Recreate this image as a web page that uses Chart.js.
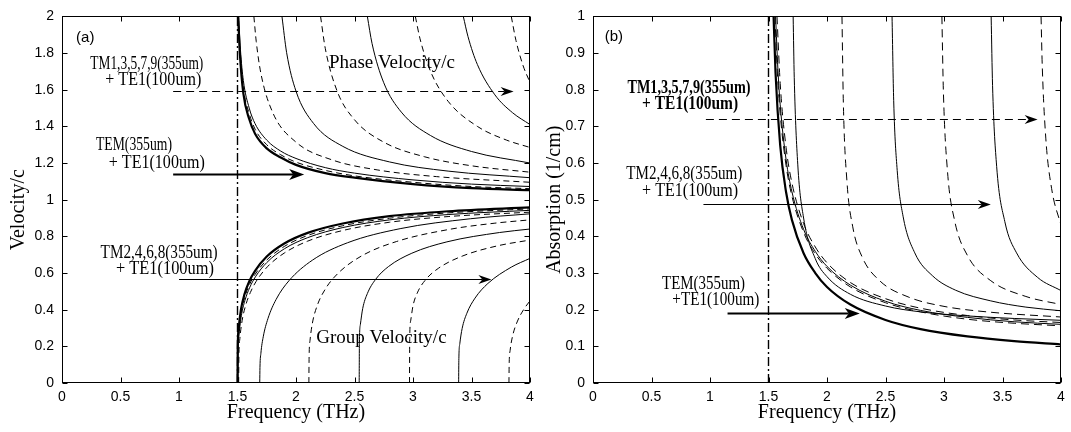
<!DOCTYPE html>
<html>
<head>
<meta charset="utf-8">
<title>Velocity and absorption vs frequency</title>
<script src="https://cdn.jsdelivr.net/npm/chart.js@4.4.1/dist/chart.umd.min.js"></script>
<style>
  body { margin: 0; background: #fff; }
  .panel { position: absolute; top: 0; }
  #velPanel { left: 0; }
  #absPanel { left: 540px; }
</style>
</head>
<body>
<canvas id="velPanel" class="panel" width="540" height="432"></canvas>
<canvas id="absPanel" class="panel" width="531" height="432"></canvas>
<script>
// axis ticks
const freqTicks = [0, 0.5, 1, 1.5, 2, 2.5, 3, 3.5, 4];
const velTicks = [0, 0.2, 0.4, 0.6, 0.8, 1, 1.2, 1.4, 1.6, 1.8, 2];
const absTicks = [0, 0.1, 0.2, 0.3, 0.4, 0.5, 0.6, 0.7, 0.8, 0.9, 1];

// TE1(100um) cutoff, THz
const cutoffTHz = 1.5;

// (a) phase velocity / c, [THz, v/c]
const phaseTEM = [[1.505,2.0],[1.52,1.80],[1.55,1.58],[1.6,1.44],[1.65,1.36],[1.75,1.28],[1.87,1.23],[2.0,1.19],[2.25,1.145],[2.5,1.12],[3.0,1.085],[3.5,1.063],[4.0,1.052]];
const phaseTM1 = [[1.507,2.0],[1.52,1.83],[1.55,1.61],[1.6,1.47],[1.65,1.385],[1.75,1.30],[1.87,1.245],[2.0,1.205],[2.25,1.16],[2.5,1.13],[3.0,1.095],[3.5,1.072],[4.0,1.06]];
const phaseTM2 = [[1.51,2.0],[1.525,1.82],[1.55,1.65],[1.6,1.50],[1.65,1.415],[1.75,1.325],[1.87,1.265],[2.0,1.225],[2.25,1.175],[2.5,1.145],[3.0,1.108],[3.5,1.085],[4.0,1.072]];
const phaseTM3 = [[1.64,2.0],[1.66,1.864],[1.7,1.689],[1.8,1.477],[2.0,1.314],[2.3,1.219],[2.7,1.162],[3.2,1.126],[4.0,1.095]];
const phaseTM4 = [[1.88,2.0],[1.92,1.802],[2.0,1.592],[2.15,1.416],[2.4,1.291],[2.8,1.206],[3.3,1.156],[4.0,1.12]];
const phaseTM5 = [[2.21,2.0],[2.25,1.826],[2.35,1.595],[2.5,1.436],[2.75,1.314],[3.1,1.234],[3.5,1.185],[4.0,1.15]];
const phaseTM6 = [[2.61,2.0],[2.65,1.852],[2.75,1.638],[2.9,1.478],[3.15,1.35],[3.5,1.263],[4.0,1.2]];
const phaseTM7 = [[3.02,2.0],[3.06,1.878],[3.15,1.70],[3.3,1.537],[3.55,1.40],[3.8,1.325],[4.0,1.285]];
const phaseTM8 = [[3.43,2.0],[3.47,1.89],[3.55,1.738],[3.7,1.572],[3.85,1.475],[4.0,1.41]];
const phaseTM9 = [[3.84,2.0],[3.88,1.869],[3.94,1.733],[4.0,1.64]];

// (a) group velocity / c
const groupTEM = [[1.5,0],[1.502,0.19],[1.51,0.298],[1.53,0.403],[1.56,0.485],[1.6,0.554],[1.65,0.612],[1.75,0.69],[1.9,0.761],[2.1,0.819],[2.4,0.87],[2.8,0.91],[3.3,0.937],[4.0,0.958]];
const groupTM1 = [[1.5,0],[1.502,0.173],[1.51,0.277],[1.53,0.381],[1.56,0.463],[1.6,0.533],[1.65,0.592],[1.75,0.671],[1.9,0.745],[2.1,0.805],[2.4,0.858],[2.8,0.899],[3.3,0.928],[4.0,0.95]];
const groupTM2 = [[1.503,0],[1.505,0.162],[1.513,0.264],[1.533,0.367],[1.563,0.449],[1.603,0.519],[1.653,0.579],[1.75,0.657],[1.9,0.732],[2.1,0.793],[2.4,0.848],[2.8,0.89],[3.3,0.919],[4.0,0.942]];
const groupTM3 = [[1.51,0],[1.512,0.144],[1.52,0.241],[1.54,0.342],[1.57,0.424],[1.61,0.494],[1.66,0.555],[1.76,0.637],[1.9,0.709],[2.1,0.774],[2.4,0.832],[2.8,0.877],[3.3,0.908],[4.0,0.932]];
const groupTM4 = [[1.69,0],[1.692,0.084],[1.70,0.162],[1.72,0.252],[1.76,0.351],[1.83,0.456],[1.94,0.558],[2.14,0.670],[2.44,0.765],[2.89,0.842],[3.49,0.896],[4.0,0.923]];
const groupTM5 = [[2.11,0],[2.112,0.142],[2.12,0.233],[2.14,0.326],[2.18,0.42],[2.25,0.512],[2.36,0.599],[2.56,0.693],[2.86,0.772],[3.31,0.838],[3.7,0.872],[4.0,0.89]];
const groupTM6 = [[2.54,0],[2.542,0.222],[2.55,0.318],[2.57,0.406],[2.61,0.488],[2.68,0.565],[2.79,0.635],[2.99,0.708],[3.29,0.77],[3.74,0.821],[4.0,0.84]];
const groupTM7 = [[2.97,0],[2.972,0.247],[2.98,0.339],[3.0,0.421],[3.04,0.496],[3.11,0.565],[3.22,0.627],[3.42,0.692],[3.72,0.748],[4.0,0.78]];
const groupTM8 = [[3.39,0],[3.392,0.133],[3.40,0.214],[3.42,0.297],[3.46,0.38],[3.53,0.463],[3.64,0.543],[3.84,0.632],[4.0,0.68]];
const groupTM9 = [[3.82,0],[3.822,0.104],[3.83,0.177],[3.85,0.253],[3.89,0.333],[3.95,0.405],[4.0,0.448]];

// (b) absorption, 1/cm
const absTEM = [[1.5435,1.0],[1.56,0.847],[1.6,0.648],[1.65,0.521],[1.7,0.445],[1.8,0.354],[1.9,0.300],[2.0,0.262],[2.2,0.214],[2.5,0.172],[2.8,0.147],[3.2,0.127],[3.6,0.114],[4.0,0.105]];
const absTM1 = [[1.555,1.0],[1.575,0.851],[1.6,0.734],[1.65,0.594],[1.7,0.510],[1.8,0.411],[1.9,0.352],[2.0,0.313],[2.2,0.262],[2.5,0.219],[2.8,0.194],[3.2,0.174],[3.6,0.163],[4.0,0.156]];
const absTM2 = [[1.5605,1.0],[1.58,0.858],[1.6,0.759],[1.65,0.610],[1.7,0.522],[1.8,0.419],[1.9,0.359],[2.0,0.318],[2.2,0.267],[2.5,0.223],[2.8,0.198],[3.2,0.179],[3.6,0.167],[4.0,0.160]];
const absTM3 = [[1.5725,1.0],[1.6,0.817],[1.65,0.643],[1.7,0.546],[1.8,0.435],[1.9,0.371],[2.0,0.328],[2.2,0.274],[2.5,0.230],[2.8,0.204],[3.2,0.184],[3.6,0.172],[4.0,0.165]];
const absTM4 = [[1.7107,1.0],[1.72,0.834],[1.75,0.597],[1.8,0.450],[1.9,0.339],[2.0,0.290],[2.2,0.242],[2.5,0.210],[2.8,0.194],[3.2,0.183],[3.6,0.176],[4.0,0.171]];
const absTM5 = [[2.128,1.0],[2.14,0.761],[2.17,0.552],[2.22,0.426],[2.3,0.344],[2.45,0.279],[2.7,0.234],[3.0,0.209],[3.4,0.193],[4.0,0.18]];
const absTM6 = [[2.556,1.0],[2.57,0.770],[2.6,0.580],[2.65,0.455],[2.75,0.355],[2.9,0.293],[3.1,0.253],[3.4,0.224],[3.7,0.207],[4.0,0.197]];
const absTM7 = [[2.982,1.0],[2.995,0.793],[3.03,0.577],[3.09,0.444],[3.2,0.348],[3.4,0.279],[3.7,0.236],[4.0,0.214]];
const absTM8 = [[3.403,1.0],[3.415,0.812],[3.45,0.591],[3.52,0.440],[3.62,0.355],[3.8,0.288],[4.0,0.252]];
const absTM9 = [[3.8295,1.0],[3.84,0.863],[3.87,0.668],[3.92,0.530],[4.0,0.43]];

const SERIF = '"Liberation Serif", "Times New Roman", serif';
const SANS = '"Liberation Sans", Arial, sans-serif';

const thick = { borderWidth: 2.2, borderDash: [] };
const solid = { borderWidth: 1, borderDash: [] };
const dashed = { borderWidth: 1, borderDash: [6, 4] };
const longDash = { borderWidth: 1, borderDash: [8, 5] };

function curve(data, style) {
  return Object.assign({
    data: data,
    borderColor: '#000',
    pointRadius: 0,
    fill: false,
    cubicInterpolationMode: 'monotone'
  }, style);
}

function cutoffLine(top) {
  return {
    data: [[cutoffTHz, 0], [cutoffTHz, top]],
    borderColor: '#000',
    borderWidth: 1.4,
    borderDash: [9, 3, 2, 3],
    pointRadius: 0,
    tension: 0
  };
}

function drawArrow(ctx, x1, x2, y, a) {
  const len = a.big ? 15 : 13;
  const half = a.big ? 5.5 : 4.5;
  ctx.save();
  ctx.lineWidth = a.width;
  ctx.setLineDash(a.dash || []);
  ctx.beginPath();
  ctx.moveTo(x1, y);
  ctx.lineTo(x2 - len + 4, y);
  ctx.stroke();
  ctx.setLineDash([]);
  ctx.beginPath();
  ctx.moveTo(x2, y);
  ctx.lineTo(x2 - len, y - half);
  ctx.lineTo(x2 - len + 4, y);
  ctx.lineTo(x2 - len, y + half);
  ctx.closePath();
  ctx.fill();
  ctx.restore();
}

// frame, inward ticks, titles and the mode labels
const paperNotes = {
  id: 'paperNotes',
  afterDatasetsDraw(chart, args, opts) {
    const ctx = chart.ctx;
    const a = chart.chartArea;
    const x = chart.scales.x, y = chart.scales.y;
    ctx.save();
    ctx.strokeStyle = '#000';
    ctx.fillStyle = '#000';
    ctx.lineWidth = 1;
    const L = Math.round(a.left) + 0.5, R = Math.round(a.right) - 0.5;
    const T = Math.round(a.top) + 0.5, B = Math.round(a.bottom) - 0.5;
    ctx.strokeRect(L, T, R - L, B - T);
    ctx.beginPath();
    x.ticks.forEach(t => {
      const px = Math.round(x.getPixelForValue(t.value)) + 0.5;
      ctx.moveTo(px, B); ctx.lineTo(px, B - 5);
      ctx.moveTo(px, T); ctx.lineTo(px, T + 5);
    });
    y.ticks.forEach(t => {
      const py = Math.round(y.getPixelForValue(t.value)) + 0.5;
      ctx.moveTo(L, py); ctx.lineTo(L + 5, py);
      ctx.moveTo(R, py); ctx.lineTo(R - 5, py);
    });
    ctx.stroke();

    ctx.textBaseline = 'middle';
    ctx.textAlign = 'center';
    ctx.font = '20px ' + SERIF;
    ctx.fillText(opts.xTitle, (a.left + a.right) / 2, a.bottom + 30);
    ctx.save();
    ctx.translate(opts.yTitleX, (a.top + a.bottom) / 2 + opts.yTitleShift);
    ctx.rotate(-Math.PI / 2);
    ctx.fillText(opts.yTitle, 0, 0);
    ctx.restore();

    opts.texts.forEach(n => {
      ctx.font = n.font || ((n.bold ? 'bold ' : '') + '19px ' + SERIF);
      ctx.textAlign = n.align || 'center';
      const px = x.getPixelForValue(n.f), py = y.getPixelForValue(n.v);
      if (n.w) ctx.fillText(n.t, px, py, n.w); else ctx.fillText(n.t, px, py);
    });
    opts.arrows.forEach(ar => {
      drawArrow(ctx, x.getPixelForValue(ar.from), x.getPixelForValue(ar.to), Math.round(y.getPixelForValue(ar.v)) + 0.5, ar);
    });
    ctx.restore();
  }
};

function axes(yMax, yTickList, yWidth) {
  const tickFont = { family: SANS, size: 14 };
  return {
    x: {
      type: 'linear', min: 0, max: 4,
      afterBuildTicks: s => { s.ticks = freqTicks.map(v => ({ value: v })); },
      afterFit: s => { s.height = 49; },
      grid: { display: false, drawTicks: false },
      border: { display: false },
      ticks: { padding: 6, font: tickFont, color: '#000', maxRotation: 0, autoSkip: false, callback: v => String(v) }
    },
    y: {
      type: 'linear', min: 0, max: yMax,
      afterBuildTicks: s => { s.ticks = yTickList.map(v => ({ value: v })); },
      afterFit: s => { s.width = yWidth; },
      grid: { display: false, drawTicks: false },
      border: { display: false },
      ticks: { padding: 8, font: tickFont, color: '#000', autoSkip: false, callback: v => String(v) }
    }
  };
}

new Chart(document.getElementById('velPanel'), {
  type: 'line',
  data: {
    datasets: [
      curve(phaseTM9, dashed), curve(phaseTM8, solid), curve(phaseTM7, dashed), curve(phaseTM6, solid),
      curve(phaseTM5, dashed), curve(phaseTM4, solid), curve(phaseTM3, dashed), curve(phaseTM2, solid),
      curve(phaseTM1, dashed), curve(phaseTEM, thick),
      curve(groupTM9, dashed), curve(groupTM8, solid), curve(groupTM7, dashed), curve(groupTM6, solid),
      curve(groupTM5, dashed), curve(groupTM4, solid), curve(groupTM3, dashed), curve(groupTM2, solid),
      curve(groupTM1, dashed), curve(groupTEM, thick),
      cutoffLine(2)
    ]
  },
  options: {
    responsive: false,
    animation: false,
    layout: { padding: { left: 0, right: 10, top: 12, bottom: 0 } },
    scales: axes(2, velTicks, 62),
    plugins: {
      legend: { display: false },
      tooltip: { enabled: false },
      paperNotes: {
        xTitle: 'Frequency (THz)',
        yTitle: 'Velocity/c',
        yTitleX: 19,
        yTitleShift: 10,
        texts: [
          { t: '(a)', f: 0.12, v: 1.885, font: '15px ' + SANS, align: 'left' },
          { t: 'TM1,3,5,7,9(355um)', f: 0.725, v: 1.741, w: 113 },
          { t: '+ TE1(100um)', f: 0.78, v: 1.651, w: 96 },
          { t: 'Phase Velocity/c', f: 2.82, v: 1.745 },
          { t: 'TEM(355um)', f: 0.615, v: 1.30, w: 76 },
          { t: '+ TE1(100um)', f: 0.81, v: 1.201, w: 96 },
          { t: 'TM2,4,6,8(355um)', f: 0.83, v: 0.71, w: 117 },
          { t: '+ TE1(100um)', f: 0.88, v: 0.62, w: 98 },
          { t: 'Group Velocity/c', f: 2.73, v: 0.243 }
        ],
        arrows: [
          { from: 0.95, to: 3.86, v: 1.593, width: 1, dash: [8, 5] },
          { from: 0.95, to: 2.07, v: 1.142, width: 2.2, big: true },
          { from: 1.0, to: 3.67, v: 0.568, width: 1 }
        ]
      }
    }
  },
  plugins: [paperNotes]
});

new Chart(document.getElementById('absPanel'), {
  type: 'line',
  data: {
    datasets: [
      curve(absTM9, longDash), curve(absTM8, solid), curve(absTM7, longDash), curve(absTM6, solid),
      curve(absTM5, longDash), curve(absTM4, solid), curve(absTM3, longDash), curve(absTM2, solid),
      curve(absTM1, longDash), curve(absTEM, thick),
      cutoffLine(1)
    ]
  },
  options: {
    responsive: false,
    animation: false,
    layout: { padding: { left: 0, right: 10, top: 12, bottom: 0 } },
    scales: axes(1, absTicks, 53),
    plugins: {
      legend: { display: false },
      tooltip: { enabled: false },
      paperNotes: {
        xTitle: 'Frequency (THz)',
        yTitle: 'Absorption (1/cm)',
        yTitleX: 15,
        yTitleShift: 0,
        texts: [
          { t: '(b)', f: 0.10, v: 0.944, font: '15px ' + SANS, align: 'left' },
          { t: 'TM1,3,5,7,9(355um)', f: 0.82, v: 0.805, bold: true, w: 123 },
          { t: '+ TE1(100um)', f: 0.83, v: 0.76, bold: true, w: 96 },
          { t: 'TM2,4,6,8(355um)', f: 0.78, v: 0.57, w: 116 },
          { t: '+ TE1(100um)', f: 0.83, v: 0.525, w: 96 },
          { t: 'TEM(355um)', f: 0.945, v: 0.27, w: 83 },
          { t: '+TE1(100um)', f: 1.05, v: 0.225, w: 87 }
        ],
        arrows: [
          { from: 0.965, to: 3.80, v: 0.721, width: 1, dash: [8, 5] },
          { from: 0.944, to: 3.40, v: 0.487, width: 1 },
          { from: 1.15, to: 2.28, v: 0.192, width: 2.2, big: true }
        ]
      }
    }
  },
  plugins: [paperNotes]
});
</script>
</body>
</html>
